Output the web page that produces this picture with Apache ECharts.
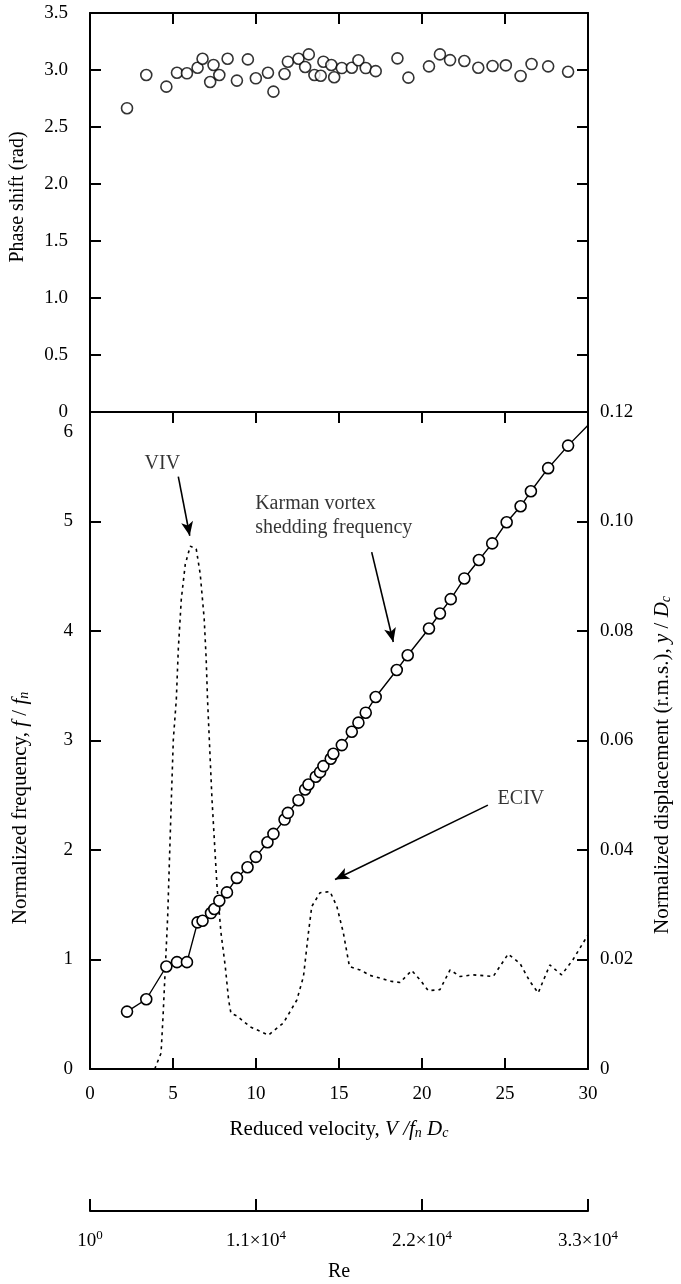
<!DOCTYPE html>
<html><head><meta charset="utf-8">
<script src="https://cdn.jsdelivr.net/npm/echarts@6.0.0/dist/echarts.min.js"></script>
<style>html,body{margin:0;padding:0;background:#fff}#c{width:681px;height:1284px}</style>
</head><body><div id="c"></div>
<script>
// ---------- data ----------
const phaseX = [2.23,3.39,4.6,5.24,5.84,6.48,6.78,7.24,7.44,7.79,8.29,8.85,9.51,9.99,10.72,11.05,11.72,11.92,12.56,12.96,13.18,13.52,13.9,14.06,14.54,14.71,15.17,15.77,16.17,16.61,17.21,18.52,19.18,20.42,21.08,21.69,22.55,23.39,24.25,25.05,25.94,26.6,27.6,28.8];
const phaseY = [2.665,2.956,2.854,2.976,2.971,3.02,3.099,2.895,3.044,2.956,3.099,2.907,3.093,2.927,2.976,2.81,2.965,3.073,3.099,3.026,3.137,2.956,2.95,3.073,3.044,2.936,3.017,3.02,3.085,3.017,2.99,3.102,2.933,3.032,3.137,3.087,3.079,3.02,3.035,3.041,2.948,3.052,3.032,2.985];

const freqX = [2.23,3.39,4.6,5.24,5.84,6.48,6.78,7.29,7.49,7.79,8.25,8.85,9.49,9.99,10.69,11.05,11.72,11.92,12.56,12.96,13.16,13.6,13.86,14.06,14.5,14.66,15.17,15.77,16.17,16.61,17.21,18.48,19.14,20.42,21.08,21.73,22.55,23.43,24.23,25.1,25.94,26.56,27.6,28.8,30];
const freqY = [0.524,0.637,0.936,0.976,0.976,1.339,1.354,1.424,1.461,1.537,1.613,1.745,1.842,1.937,2.071,2.147,2.278,2.339,2.455,2.553,2.598,2.669,2.711,2.766,2.833,2.879,2.958,3.08,3.163,3.254,3.397,3.644,3.779,4.023,4.16,4.291,4.48,4.648,4.8,4.993,5.139,5.276,5.487,5.693,5.88];
const freqMarked = 44; // first 44 points carry a circle, the end point of the line does not

const dispX = [3.9,4.04,4.28,4.4,4.54,4.68,4.9,5.02,5.2,5.32,5.5,5.74,6.04,6.4,6.64,6.88,7.0,7.08,7.35,7.65,7.89,8.15,8.35,8.49,8.85,9.65,10.75,11.65,12.46,12.86,13.16,13.36,13.86,14.46,14.87,15.26,15.63,16.27,16.87,17.47,18.18,18.68,19.38,19.88,20.38,21.08,21.69,22.29,23.09,24.29,25.19,25.9,26.5,27.0,27.7,28.41,29.1,30];
const dispY = [0,0.0011,0.0029,0.0096,0.0187,0.0279,0.0492,0.0602,0.0675,0.0767,0.0858,0.0922,0.0955,0.095,0.0904,0.0822,0.0748,0.0675,0.0492,0.0334,0.0249,0.0187,0.0126,0.0102,0.0097,0.0077,0.0062,0.0084,0.0126,0.0169,0.0249,0.0297,0.0322,0.0324,0.0297,0.0249,0.0187,0.0181,0.0171,0.0166,0.016,0.0158,0.018,0.0163,0.0143,0.0145,0.0181,0.0169,0.0172,0.0169,0.021,0.0193,0.016,0.0139,0.019,0.0172,0.02,0.0245];

const reTicks = ['10^0','1.1×10^4','2.2×10^4','3.3×10^4'];

// annotations (data coordinates of the lower panel, left axis)
const arrowFrom = [[5.32,5.41],[16.97,4.72],[23.97,2.41]];
const arrowTo   = [[6.01,4.87],[18.27,3.9],[14.76,1.73]];
const noteText  = ['VIV','Karman vortex\nshedding frequency','ECIV'];
const notePos   = [[4.36,5.53],[9.95,5.05],[25.96,2.47]];
const noteAlign = ['center','left','center'];

// ---------- chart ----------
const FONT = "'Liberation Serif','Times New Roman',serif";
const BLK = '#000';
const chart = echarts.init(document.getElementById('c'), null, {renderer:'canvas'});

const line2 = {show:true, onZero:false, lineStyle:{color:BLK,width:2}};
const tickIn = {show:true, inside:true, length:11, lineStyle:{color:BLK,width:2}};
const lab = (m, extra) => Object.assign({show:true, color:BLK, fontFamily:FONT, fontSize:19, margin:m}, extra||{});

const subStyle = {fontFamily:FONT, fontSize:14, fontStyle:'italic', color:BLK, padding:[9,0,0,0]};
const rich = {
  n:{fontFamily:FONT, fontSize:21, color:BLK},
  i:{fontFamily:FONT, fontSize:21, fontStyle:'italic', color:BLK},
  s:subStyle
};

const pairs = (xs, ys) => xs.map((x,k)=>[x, ys[k]]);
const freqData = freqX.map((x,k)=> k < freqMarked ? [x,freqY[k]] : {value:[x,freqY[k]], symbol:'none'});

const option = {
  animation:false,
  backgroundColor:'#fff',
  grid:[
    {left:90, right:93, top:13, height:399},
    {left:90, right:93, top:412, height:657},
    {left:90, right:93, top:1199, height:12}
  ],
  xAxis:[
    {gridIndex:0, type:'value', min:0, max:30, interval:5, position:'bottom', axisLine:line2, axisTick:{show:false}, axisLabel:{show:false}, splitLine:{show:false}},
    {gridIndex:0, type:'value', min:0, max:30, interval:5, position:'top', axisLine:line2, axisTick:tickIn, axisLabel:{show:false}, splitLine:{show:false}},
    {gridIndex:1, type:'value', min:0, max:30, interval:5, position:'bottom', axisLine:line2, axisTick:tickIn,
      axisLabel:lab(16), splitLine:{show:false}},
    {gridIndex:1, type:'value', min:0, max:30, interval:5, position:'top', axisLine:line2, axisTick:tickIn, axisLabel:{show:false}, splitLine:{show:false}},
    {gridIndex:2, type:'value', min:0, max:33000, interval:11000, position:'bottom', axisLine:line2,
      axisTick:{show:true, inside:true, length:12, lineStyle:{color:BLK,width:2}},
      axisLabel:lab(18,{
        formatter:(v)=>{const t=reTicks[Math.round(v/11000)]; const p=t.split('^'); return '{b|'+p[0]+'}{u|'+p[1]+'}';},
        rich:{b:{fontFamily:FONT,fontSize:19,color:BLK}, u:{fontFamily:FONT,fontSize:13,color:BLK,padding:[0,0,11,0]}}
      }), splitLine:{show:false}}
  ],
  yAxis:[
    {gridIndex:0, type:'value', min:0, max:3.5, interval:0.5, position:'left', axisLine:line2, axisTick:tickIn,
      axisLabel:lab(22,{formatter:(v)=> v===0?'0':v.toFixed(1)}), splitLine:{show:false}},
    {gridIndex:0, type:'value', min:0, max:3.5, interval:0.5, position:'right', axisLine:line2, axisTick:tickIn, axisLabel:{show:false}, splitLine:{show:false}},
    {gridIndex:1, type:'value', min:0, max:6, interval:1, position:'left', axisLine:line2, axisTick:tickIn,
      axisLabel:lab(17,{formatter:(v)=> v===6?'{d|6}':String(v), rich:{d:{fontFamily:FONT,fontSize:19,color:BLK,padding:[40,0,0,0]}}}), splitLine:{show:false}},
    {gridIndex:1, type:'value', min:0, max:0.12, interval:0.02, position:'right', axisLine:line2, axisTick:tickIn,
      axisLabel:lab(12,{formatter:(v)=> v===0?'0':v.toFixed(2)}), splitLine:{show:false}},
    {gridIndex:2, type:'value', min:0, max:1, show:false}
  ],
  series:[
    {name:'phase', type:'scatter', xAxisIndex:0, yAxisIndex:0, data:pairs(phaseX,phaseY),
      symbol:'circle', symbolSize:11, itemStyle:{color:'#fff', borderColor:BLK, borderWidth:1.6}, z:5},
    {name:'freq', type:'line', xAxisIndex:2, yAxisIndex:2, data:freqData,
      symbol:'circle', symbolSize:11, showAllSymbol:true,
      lineStyle:{color:BLK,width:1.4}, itemStyle:{color:'#fff', borderColor:BLK, borderWidth:1.6}, z:5},
    {name:'disp', type:'line', xAxisIndex:2, yAxisIndex:3, data:pairs(dispX,dispY),
      symbol:'none', lineStyle:{color:BLK, width:1.6, type:[3,4]}, z:4},
    {name:'notes', type:'scatter', xAxisIndex:2, yAxisIndex:2, symbolSize:0.1,
      data:notePos.map((p,k)=>({value:p, label:{show:true, position:'inside', formatter:noteText[k], align:noteAlign[k],
        verticalAlign:'middle', fontFamily:FONT, fontSize:20, lineHeight:24, color:BLK}})),
      markLine:{silent:true, symbol:['none','arrow'], symbolSize:[9,14], precision:4,
        lineStyle:{color:BLK, width:1.6, type:'solid'}, label:{show:false},
        data:arrowFrom.map((f,k)=>[{coord:f},{coord:arrowTo[k]}])}, z:6}
  ],
  graphic:[
    {type:'text', x:18, y:197, rotation:Math.PI/2, style:{text:'Phase shift (rad)', fontFamily:FONT, fontSize:20, fill:BLK, align:'center', verticalAlign:'middle'}},
    {type:'text', x:20, y:808, rotation:Math.PI/2, style:{text:'{n|Normalized frequency, }{i|f}{n| / }{i|f}{s|n}', rich:rich, align:'center', verticalAlign:'middle'}},
    {type:'text', x:662, y:765, rotation:Math.PI/2, style:{text:'{n|Normalized displacement (r.m.s.), }{i|y}{n| / }{i|D}{s|c}', rich:rich, align:'center', verticalAlign:'middle'}},
    {type:'text', x:339, y:1129, style:{text:'{n|Reduced velocity, }{i|V /f}{s|n}{i| D}{s|c}', rich:rich, align:'center', verticalAlign:'middle'}},
    {type:'text', x:339, y:1272, style:{text:'Re', fontFamily:FONT, fontSize:20, fill:BLK, align:'center', verticalAlign:'middle'}}
  ]
};
chart.setOption(option);
</script></body></html>
